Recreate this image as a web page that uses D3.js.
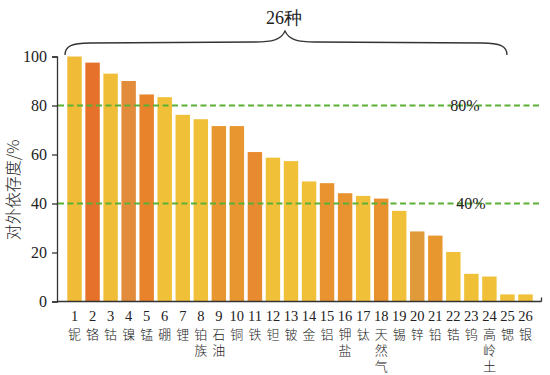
<!DOCTYPE html>
<html>
<head>
<meta charset="utf-8">
<script src="https://cdn.jsdelivr.net/npm/d3@7"></script>
<style>
  body { margin: 0; background: #fff; }
  text { font-family: 'Liberation Serif', 'Times New Roman', serif; fill: #222; }
</style>
</head>
<body>
<div id="chart"></div>
<script>
// data
const ids = d3.range(1, 27);
const names = ["铌", "铬", "钴", "镍", "锰", "硼", "锂", "铂族", "石油", "铜", "铁", "钽", "铍",
    "金", "铝", "钾盐", "钛", "天然气", "锡", "锌", "铅", "锆", "钨", "高岭土", "锶", "银"];
const values = [100, 97.5, 93, 90, 84.5, 83.4, 76.2, 74.4, 71.6, 71.6, 61, 58.7, 57.3,
    49, 48.3, 44.2, 43.1, 42, 37, 28.6, 26.9, 20.2, 11.3, 10.2, 2.9, 2.9];
const barColors = ["#f0bb36", "#e5712a", "#f0bd38", "#e28b3b", "#e8822b", "#f0c038", "#f0c038",
    "#f0c038", "#e8962f", "#e8962f", "#e88b30", "#f0c038", "#f0c038", "#f0c038", "#e8932f",
    "#e8932f", "#f0c038", "#e8922e", "#f0c038", "#e09a3a", "#e8972f", "#f0c038", "#f0c038",
    "#f0c038", "#f0c038", "#f0c038"];
const yTicks = [0, 20, 40, 60, 80, 100];
const refLines = [80, 40];

const serif = "'Liberation Serif', 'Times New Roman', serif";
const cjk = "'Noto Sans CJK SC', sans-serif";

let width = 550;
let height = 375;

let svg = d3.select("#chart").append("svg")
    .attr("width", width)
    .attr("height", height);

const x = d3.scaleBand()
    .domain(ids)
    .range([65.5, 534.5])
    .paddingInner(0.2)
    .paddingOuter(0.1);

const y = d3.scaleLinear()
    .domain([0, 100])
    .range([301.5, 56.5]);

// bars
svg.append("g")
    .selectAll("rect")
    .data(values)
    .enter()
    .append("rect")
    .attr("x", (d, i) => x(ids[i]))
    .attr("y", d => y(d))
    .attr("width", x.bandwidth())
    .attr("height", d => y(0) - y(d))
    .attr("fill", (d, i) => barColors[i]);

// dashed reference lines
svg.append("g")
    .selectAll("line")
    .data(refLines)
    .enter()
    .append("line")
    .attr("x1", 58)
    .attr("x2", 541)
    .attr("y1", d => y(d))
    .attr("y2", d => y(d))
    .style("stroke", "#5bb036")
    .style("stroke-width", 2.2)
    .style("stroke-dasharray", "6,3.5");

svg.append("text")
    .attr("x", 465)
    .attr("y", y(80) + 5)
    .attr("text-anchor", "middle")
    .style("font-family", serif)
    .style("font-size", "16px")
    .text("80%");

svg.append("text")
    .attr("x", 471)
    .attr("y", y(40) + 5)
    .attr("text-anchor", "middle")
    .style("font-family", serif)
    .style("font-size", "16px")
    .text("40%");

// y axis
let yAxis = svg.append("g")
    .attr("transform", "translate(57,0)")
    .call(d3.axisLeft(y).tickValues(yTicks).tickSize(5).tickPadding(5));
yAxis.attr("font-family", null);
yAxis.select(".domain").attr("stroke", "#333").attr("stroke-width", 1.3);
yAxis.selectAll(".tick line").attr("stroke", "#333").attr("stroke-width", 1.3);
yAxis.selectAll(".tick text")
    .style("font-family", serif)
    .style("font-size", "16px")
    .attr("fill", "#222");

// x axis line
svg.append("line")
    .attr("x1", 57).attr("x2", 541.5)
    .attr("y1", y(0)).attr("y2", y(0))
    .style("stroke", "#333").style("stroke-width", 1.3);
svg.append("line")
    .attr("x1", 541.5).attr("x2", 541.5)
    .attr("y1", y(0) - 4).attr("y2", y(0))
    .style("stroke", "#333").style("stroke-width", 1.3);

// x labels: number + vertical chinese name
let labels = svg.append("g")
    .selectAll("g")
    .data(ids)
    .enter()
    .append("g")
    .attr("transform", d => "translate(" + (x(d) + x.bandwidth() / 2) + ",0)");

labels.append("text")
    .attr("y", 321)
    .attr("text-anchor", "middle")
    .style("font-family", serif)
    .style("font-size", "14.5px")
    .text(d => d);

labels.append("text")
    .attr("text-anchor", "middle")
    .style("font-family", cjk)
    .style("font-size", "13px")
    .style("font-weight", 300)
    .each(function(d, i) {
        let t = d3.select(this);
        names[i].split("").forEach(function(c, j) {
            t.append("tspan")
                .attr("x", 0)
                .attr("y", 339 + j * 16)
                .text(c);
        });
    });

// y title
svg.append("text")
    .attr("transform", "translate(19,190) rotate(-90)")
    .attr("text-anchor", "middle")
    .style("font-family", cjk)
    .style("font-size", "16px")
    .style("font-weight", 300)
    .text("对外依存度/%");

// brace
let p = d3.path();
p.moveTo(65, 55);
p.bezierCurveTo(65, 46, 72, 43, 90, 43);
p.lineTo(255, 42);
p.bezierCurveTo(272, 42, 281, 40, 285, 31);
p.bezierCurveTo(289, 40, 298, 42, 315, 42);
p.lineTo(482, 43);
p.bezierCurveTo(500, 43, 507, 46, 507, 55);
svg.append("path")
    .attr("d", p.toString())
    .attr("fill", "none")
    .style("stroke", "#333")
    .style("stroke-width", 1.3);

svg.append("text")
    .attr("x", 284)
    .attr("y", 24)
    .attr("text-anchor", "middle")
    .style("font-family", serif)
    .style("font-size", "18px")
    .text("26种");
</script>
</body>
</html>
